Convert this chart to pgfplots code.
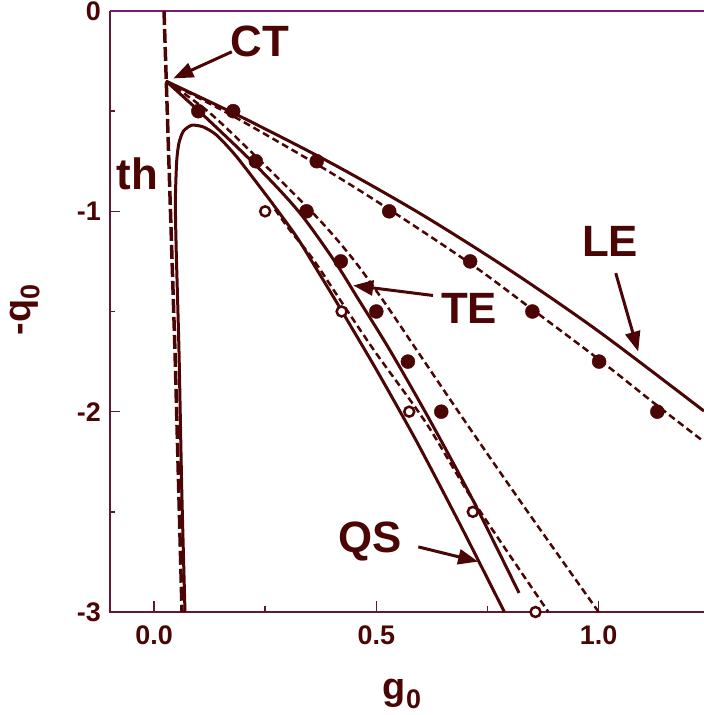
\documentclass[border=0pt]{standalone}
\usepackage{pgfplots}
\pgfplotsset{compat=1.18}
\usetikzlibrary{arrows.meta}
\usepackage{fontspec}
\setmainfont{Liberation Sans}
\definecolor{mar}{RGB}{75,5,5}
\definecolor{axc}{RGB}{95,25,50}
\definecolor{topc}{RGB}{125,25,110}
\newcommand{\tklab}{\fontsize{27}{27}\selectfont\bfseries}
\newcommand{\lbl}{\fontsize{44}{44}\selectfont\bfseries}
\begin{document}
\begin{tikzpicture}
\useasboundingbox (-110bp,-103bp) rectangle (594bp,612bp);
\begin{axis}[
  at={(0,0)}, anchor=south west,
  scale only axis, width=594bp, height=601bp,
  xmin=-0.099, xmax=1.237, ymin=-3, ymax=0,
  axis line style={draw=none},
  clip mode=individual,
  xtick={0,0.5,1.0}, xticklabels={0.0,0.5,1.0},
  minor xtick={0.25,0.75},
  ytick={-3,-2,-1,0}, yticklabels={-3,-2,-1,\raisebox{-4bp}{0}},
  minor ytick={-2.5,-1.5,-0.5},
  xtick pos=bottom, ytick pos=left,
  tick align=inside,
  major tick length=10.5bp, minor tick length=5.5bp,
  every tick/.style={axc, line width=1.5bp},
  every tick label/.style={mar, font=\tklab, inner sep=2bp},
  xticklabel style={anchor=north, yshift=-12bp},
  yticklabel style={anchor=east, xshift=-7bp},
  xlabel={\bfseries g\raisebox{-0.22em}{\fontsize{27}{27}\selectfont 0}},
  ylabel={\bfseries -q\raisebox{-0.22em}{\fontsize{27}{27}\selectfont 0}},
  xlabel style={mar, font=\fontsize{38}{38}\selectfont, at={(rel axis cs:0.4916,-0.1364)}, anchor=center},
  ylabel style={mar, font=\fontsize{38}{38}\selectfont, at={(rel axis cs:-0.143,0.5025)}, anchor=center},
]
% axis frame
\draw[axc, line width=2bp] (rel axis cs:0,1) -- (rel axis cs:0,0) -- (rel axis cs:1,0);
\draw[topc, line width=2bp] (rel axis cs:0,1) -- (rel axis cs:1,1);
% th dashed
\addplot[mar, line width=3.5bp, dash pattern=on 14bp off 4bp] coordinates {(0.0225,0) (0.0472,-1.7) (0.0630,-3)};
% QS solid
\addplot[mar, line width=3bp, smooth, tension=0.4] coordinates {
(0.0697,-3) (0.0625,-2.4) (0.0562,-1.7) (0.050,-1.2) (0.048,-0.95) (0.051,-0.75) (0.056,-0.66) (0.066,-0.6) (0.085,-0.57) (0.111,-0.579) (0.141,-0.62) (0.186,-0.728) (0.261,-0.945) (0.321,-1.128) (0.366,-1.29) (0.411,-1.455) (0.50,-1.79) (0.591,-2.15) (0.69,-2.57) (0.788,-3)};
% QS dashed
\addplot[mar, line width=2.5bp, dash pattern=on 7bp off 4bp, smooth] coordinates {
(0.272,-0.99) (0.306,-1.095) (0.358,-1.24) (0.43,-1.48) (0.5,-1.71) (0.613,-2.06) (0.718,-2.445) (0.887,-3.0)};
% TE solid
\addplot[mar, line width=3bp, smooth] coordinates {
(0.027,-0.35) (0.111,-0.52) (0.231,-0.775) (0.325,-1.0) (0.405,-1.245) (0.46,-1.44) (0.531,-1.695) (0.621,-2.045) (0.718,-2.445) (0.821,-2.905)};
% TE dashed
\addplot[mar, line width=2.5bp, dash pattern=on 7bp off 4bp, smooth] coordinates {
(0.027,-0.35) (0.126,-0.51) (0.261,-0.795) (0.373,-1.045) (0.45,-1.245) (0.52,-1.46) (0.587,-1.68) (0.70,-2.05) (0.831,-2.47) (1.0,-3.0)};
% LE solid
\addplot[mar, line width=3bp, smooth] coordinates {
(0.027,-0.35) (0.2,-0.533) (0.4,-0.761) (0.6,-1.013) (0.8,-1.293) (1.0,-1.599) (1.237,-1.997)};
% LE dashed
\addplot[mar, line width=2.5bp, dash pattern=on 7bp off 4bp, smooth] coordinates {
(0.027,-0.35) (0.178,-0.525) (0.366,-0.765) (0.5085,-0.961) (0.711,-1.26) (0.851,-1.49) (1.001,-1.74) (1.132,-1.97) (1.237,-2.15)};
% dots
\addplot[only marks, mark=*, mark size=7bp, mar, mark options={fill=mar, draw=mar}] coordinates {
(0.178,-0.5) (0.366,-0.75) (0.529,-1) (0.711,-1.25) (0.851,-1.5) (1.001,-1.75) (1.132,-2)};
\addplot[only marks, mark=*, mark size=7bp, mar, mark options={fill=mar, draw=mar}] coordinates {
(0.0996,-0.5) (0.229,-0.75) (0.343,-1) (0.420,-1.25) (0.5,-1.5) (0.571,-1.75) (0.646,-2)};
\addplot[only marks, mark=*, mark size=5bp, mar, mark options={fill=white, draw=mar, line width=2.5bp}] coordinates {
(0.25,-1) (0.422,-1.5) (0.574,-2) (0.717,-2.5) (0.858,-3)};
% labels and arrows
\node[mar, font=\lbl] at (axis cs:0.238,-0.15) {CT};
\draw[mar, line width=3bp, -{Triangle[length=20bp,width=15bp]}] (axis cs:0.175,-0.2035) -- (axis cs:0.0434,-0.3365);
\node[mar, font=\lbl] at (axis cs:-0.038,-0.815) {th};
\node[mar, font=\lbl] at (axis cs:0.7085,-1.485) {TE};
\draw[mar, line width=3bp, -{Triangle[length=20bp,width=15bp]}] (axis cs:0.6275,-1.42) -- (axis cs:0.448,-1.37);
\node[mar, font=\lbl] at (axis cs:1.0256,-1.15) {LE};
\draw[mar, line width=3bp, -{Triangle[length=20bp,width=15bp]}] (axis cs:1.0385,-1.3085) -- (axis cs:1.089,-1.70);
\node[mar, font=\lbl] at (axis cs:0.486,-2.65) {QS};
\draw[mar, line width=3bp, -{Triangle[length=20bp,width=15bp]}] (axis cs:0.5945,-2.675) -- (axis cs:0.729,-2.7485);
\end{axis}
\end{tikzpicture}
\end{document}
